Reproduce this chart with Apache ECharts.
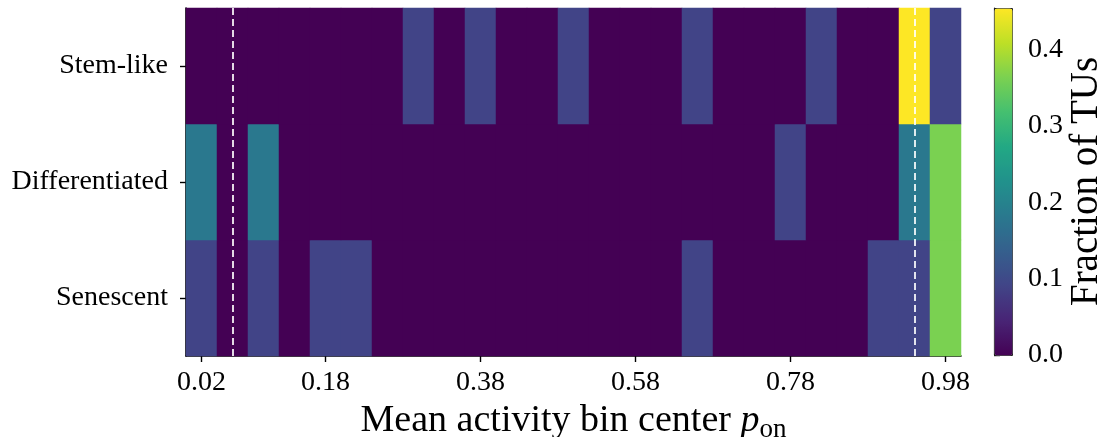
<!DOCTYPE html>
<html>
<head>
<meta charset="utf-8">
<script src="https://cdn.jsdelivr.net/npm/echarts@6/dist/echarts.min.js"></script>
<style>
html,body{margin:0;padding:0;background:#fff;}
#chart{width:1099px;height:437px;}
</style>
</head>
<body>
<div id="chart"></div>
<script>
const binCenters = ['0.02','0.06','0.10','0.14','0.18','0.22','0.26','0.30','0.34','0.38','0.42','0.46','0.50',
  '0.54','0.58','0.62','0.66','0.70','0.74','0.78','0.82','0.86','0.90','0.94','0.98'];
const cellTypes = ['Senescent','Differentiated','Stem-like'];
const xTickLabels = ['0.02','0.18','0.38','0.58','0.78','0.98'];
const thresholds = ['0.06','0.94'];
const colorbarTicks = [0, 0.1, 0.2, 0.3, 0.4];
const colorMax = 0.4545;

const senescent =      [0.0909,0,0.0909,0,0.0909,0.0909,0,0,0,0,0,0,0,0,0,0,0.0909,0,0,0,0,0,0.0909,0.0909,0.3636];
const differentiated = [0.1818,0,0.1818,0,0,0,0,0,0,0,0,0,0,0,0,0,0,0,0,0.0909,0,0,0,0.1818,0.3636];
const stemLike =       [0,0,0,0,0,0,0,0.0909,0,0.0909,0,0,0.0909,0,0,0,0.0909,0,0,0,0.0909,0,0,0.4545,0.0909];

const rows = [senescent, differentiated, stemLike];
const data = [];
rows.forEach((r, yi) => r.forEach((v, xi) => data.push([xi, yi, v])));

const viridis = ['#440154','#482475','#414487','#355f8d','#2a788e','#21918c','#22a884','#44bf70','#7ad151','#bddf26','#fde725'];
const serif = '"Liberation Serif", "Times New Roman", serif';

const chart = echarts.init(document.getElementById('chart'), null, {renderer: 'canvas'});
chart.setOption({
  backgroundColor: '#fff',
  animation: false,
  textStyle: {fontFamily: serif, color: '#000'},
  grid: [
    {left: 186, top: 8, width: 775, height: 348, containLabel: false, outerBoundsMode: 'none'},
    {left: 994, top: 8, width: 18, height: 347, containLabel: false, outerBoundsMode: 'none'}
  ],
  xAxis: [
    {
      type: 'category', gridIndex: 0, data: binCenters,
      axisLine: {show: true, lineStyle: {color: '#000', width: 1.6}},
      axisTick: {show: true, alignWithLabel: true, length: 6, lineStyle: {color: '#000', width: 1.4},
        interval: (i, v) => xTickLabels.includes(v)},
      axisLabel: {interval: (i, v) => xTickLabels.includes(v), fontSize: 28, color: '#000', fontFamily: serif, margin: 13},
      splitLine: {show: false},
      name: '{a|Mean activity bin center }{i|p}{s|on}',
      nameLocation: 'middle', nameGap: 41,
      nameTextStyle: {
        fontFamily: serif, color: '#000',
        rich: {
          a: {fontSize: 38, fontFamily: serif, color: '#000'},
          i: {fontSize: 38, fontFamily: serif, fontStyle: 'italic', color: '#000'},
          s: {fontSize: 27, fontFamily: serif, color: '#000', padding: [18, 0, 0, 0]}
        }
      }
    },
    {type: 'value', gridIndex: 1, show: false, min: 0, max: 1}
  ],
  yAxis: [
    {
      type: 'category', gridIndex: 0, data: cellTypes,
      axisLine: {show: true, lineStyle: {color: '#000', width: 1.6}},
      axisTick: {show: true, alignWithLabel: true, length: 6, lineStyle: {color: '#000', width: 1.4}},
      axisLabel: {fontSize: 28, color: '#000', fontFamily: serif, margin: 18},
      splitLine: {show: false}
    },
    {
      type: 'value', gridIndex: 1, position: 'right', min: 0, max: colorMax,
      axisLine: {show: true, lineStyle: {color: '#222', width: 1.2}},
      axisTick: {show: true, length: 6, lineStyle: {color: '#000', width: 1.4}, customValues: colorbarTicks},
      axisLabel: {fontSize: 28, color: '#000', fontFamily: serif, margin: 16, customValues: colorbarTicks,
        formatter: v => v.toFixed(1)},
      splitLine: {show: false},
      name: 'Fraction of TUs', nameLocation: 'middle', nameRotate: 90, nameGap: 55,
      nameTextStyle: {fontSize: 39, fontFamily: serif, color: '#000'}
    }
  ],
  visualMap: {
    type: 'continuous', min: 0, max: colorMax, calculable: false, hoverLink: false,
    orient: 'vertical', left: 994, top: 8, itemWidth: 18, itemHeight: 347,
    padding: 0, borderWidth: 1, borderColor: '#222', text: null,
    inRange: {color: viridis}, seriesIndex: 0
  },
  series: [{
    type: 'heatmap', xAxisIndex: 0, yAxisIndex: 0, data: data,
    itemStyle: {borderWidth: 0},
    emphasis: {disabled: true},
    markLine: {
      silent: true, symbol: 'none', label: {show: false},
      lineStyle: {color: 'rgba(255,255,255,0.85)', type: [7, 4], width: 2},
      data: thresholds.map(t => ({xAxis: t}))
    }
  }]
});
</script>
</body>
</html>
